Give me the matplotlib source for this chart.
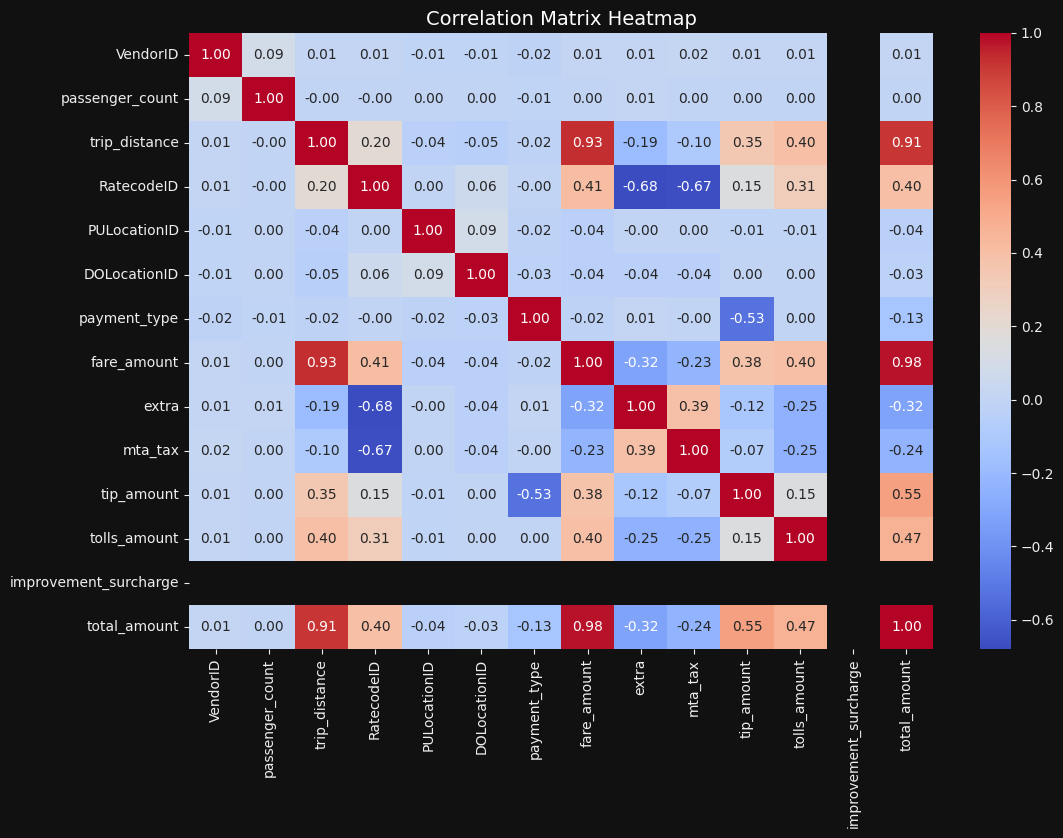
import numpy as np
import pandas as pd
import matplotlib
matplotlib.use("Agg")
import matplotlib.pyplot as plt
import seaborn as sns

labels = ["VendorID", "passenger_count", "trip_distance", "RatecodeID",
          "PULocationID", "DOLocationID", "payment_type", "fare_amount",
          "extra", "mta_tax", "tip_amount", "tolls_amount",
          "improvement_surcharge", "total_amount"]
nan = np.nan
r_vendor = [1.00, 0.09, 0.01, 0.01, -0.01, -0.01, -0.02, 0.01, 0.01, 0.02, 0.01, 0.01, nan, 0.01]
r_passenger = [0.09, 1.00, -0.00, -0.00, 0.00, 0.00, -0.01, 0.00, 0.01, 0.00, 0.00, 0.00, nan, 0.00]
r_trip = [0.01, -0.00, 1.00, 0.20, -0.04, -0.05, -0.02, 0.93, -0.19, -0.10, 0.35, 0.40, nan, 0.91]
r_ratecode = [0.01, -0.00, 0.20, 1.00, 0.00, 0.06, -0.00, 0.41, -0.68, -0.67, 0.15, 0.31, nan, 0.40]
r_pu = [-0.01, 0.00, -0.04, 0.00, 1.00, 0.09, -0.02, -0.04, -0.00, 0.00, -0.01, -0.01, nan, -0.04]
r_do = [-0.01, 0.00, -0.05, 0.06, 0.09, 1.00, -0.03, -0.04, -0.04, -0.04, 0.00, 0.00, nan, -0.03]
r_payment = [-0.02, -0.01, -0.02, -0.00, -0.02, -0.03, 1.00, -0.02, 0.01, -0.00, -0.53, 0.00, nan, -0.13]
r_fare = [0.01, 0.00, 0.93, 0.41, -0.04, -0.04, -0.02, 1.00, -0.32, -0.23, 0.38, 0.40, nan, 0.98]
r_extra = [0.01, 0.01, -0.19, -0.68, -0.00, -0.04, 0.01, -0.32, 1.00, 0.39, -0.12, -0.25, nan, -0.32]
r_mta = [0.02, 0.00, -0.10, -0.67, 0.00, -0.04, -0.00, -0.23, 0.39, 1.00, -0.07, -0.25, nan, -0.24]
r_tip = [0.01, 0.00, 0.35, 0.15, -0.01, 0.00, -0.53, 0.38, -0.12, -0.07, 1.00, 0.15, nan, 0.55]
r_tolls = [0.01, 0.00, 0.40, 0.31, -0.01, 0.00, 0.00, 0.40, -0.25, -0.25, 0.15, 1.00, nan, 0.47]
r_improve = [nan] * 14
r_total = [0.01, 0.00, 0.91, 0.40, -0.04, -0.03, -0.13, 0.98, -0.32, -0.24, 0.55, 0.47, nan, 1.00]

corr = pd.DataFrame([r_vendor, r_passenger, r_trip, r_ratecode, r_pu, r_do,
                     r_payment, r_fare, r_extra, r_mta, r_tip, r_tolls,
                     r_improve, r_total], index=labels, columns=labels)

bg = "#111111"
fg = "#eeeeee"
fig = plt.figure(figsize=(10.63, 8.38), dpi=100, facecolor=bg)
W, H = 1063, 838
ax = fig.add_axes([189 / W, (H - 649) / H, (933 - 189) / W, (649 - 33) / H])
cax = fig.add_axes([980 / W, (H - 649) / H, 31 / W, (649 - 33) / H])
ax.set_facecolor(bg)
sns.heatmap(corr, annot=True, fmt=".2f", cmap="coolwarm", ax=ax, cbar_ax=cax,
            annot_kws={"fontsize": 10})
ax.set_title("Correlation Matrix Heatmap", color="white", fontsize=14)
ax.tick_params(colors=fg, labelsize=10)
for t in ax.get_xticklabels() + ax.get_yticklabels():
    t.set_color(fg)
cax.tick_params(colors=fg, labelsize=10)
cax.set_facecolor(bg)
for s in cax.spines.values():
    s.set_visible(False)
fig.savefig("out.png", dpi=100, facecolor=bg)
